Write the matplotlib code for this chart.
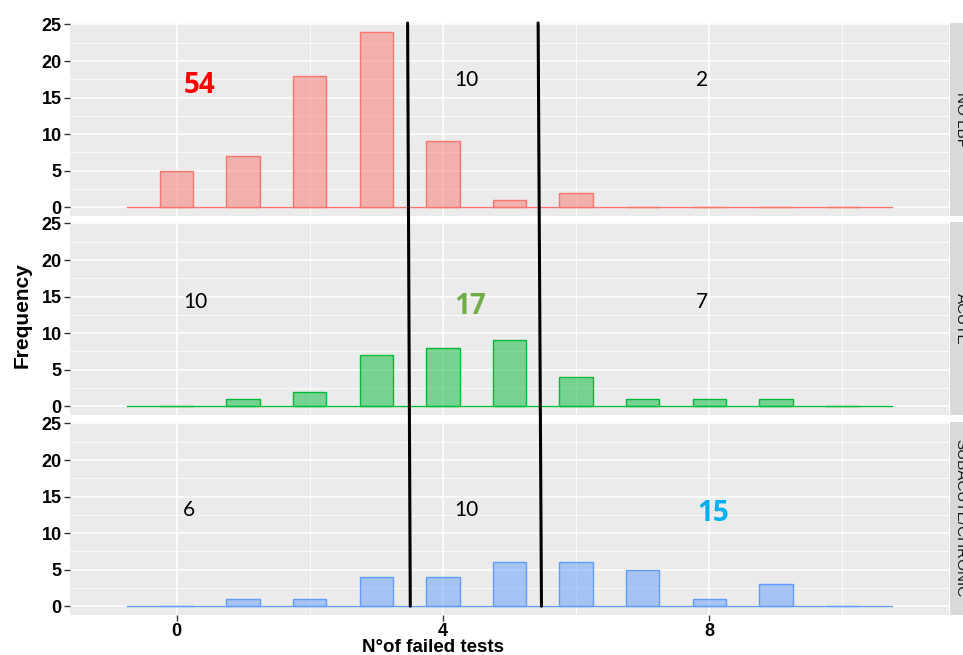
import matplotlib
matplotlib.use("Agg")
import matplotlib.pyplot as plt
from matplotlib.patches import ConnectionPatch, Rectangle

plt.rcParams["font.family"] = ["Liberation Sans", "DejaVu Sans"]

# Histogram counts of failed tests per group
failed_tests = list(range(11))
groups = ["NO LBP", "ACUTE", "SUBACUTE/CHRONIC"]
no_lbp = [5, 7, 18, 24, 9, 1, 2, 0, 0, 0, 0]
acute = [0, 1, 2, 7, 8, 9, 4, 1, 1, 1, 0]
subacute_chronic = [0, 1, 1, 4, 4, 6, 6, 5, 1, 3, 0]
group_counts = [no_lbp, acute, subacute_chronic]

# Zones of failed tests split by the two cut-off lines
zones = [(0, 3), (4, 5), (6, 10)]
highlight_zone = [0, 1, 2]
highlight_colors = ["#FF0000", "#70AD47", "#00B0F0"]

x_ticks = [0, 4, 8]
y_ticks = [0, 5, 10, 15, 20, 25]

# styling
line_colors = ["#F8766D", "#00BA38", "#619CFF"]
panel_bg = "#EBEBEB"
strip_bg = "#D9D9D9"
label_pos = [
    [(0.35, 16.7), (4.35, 17.4), (7.89, 17.4)],
    [(0.29, 14.3), (4.41, 13.6), (7.89, 14.3)],
    [(0.18, 13.1), (4.35, 13.1), (8.06, 12.7)],
]
cut_top_x = [3.47, 5.43]
cut_bottom_x = [3.51, 5.48]

W, H = 963, 655
fig = plt.figure(figsize=(W / 100, H / 100), dpi=100)

left_px, right_px = 70, 949
panel_tops = [23, 222, 422]
panel_h = 193
tick_font = dict(fontsize=13, fontweight="bold", color="black")

axes = []
for i, (name, counts) in enumerate(zip(groups, group_counts)):
    top = panel_tops[i]
    ax = fig.add_axes([left_px / W, 1 - (top + panel_h) / H,
                       (right_px - left_px) / W, panel_h / H])
    axes.append(ax)
    ax.set_facecolor(panel_bg)
    ax.set_xlim(-1.6, 11.6)
    ax.set_ylim(-1.2, 25.2)
    for s in ax.spines.values():
        s.set_visible(False)
    ax.set_axisbelow(True)
    ax.set_xticks(x_ticks)
    ax.set_yticks(y_ticks)
    ax.set_yticklabels([str(v) for v in y_ticks], **tick_font)
    ax.set_xticks([2, 6, 10], minor=True)
    ax.set_yticks([2.5, 7.5, 12.5, 17.5, 22.5], minor=True)
    ax.grid(which="major", color="white", lw=1.1)
    ax.grid(which="minor", color="white", lw=0.55)
    ax.tick_params(which="minor", length=0)
    ax.tick_params(which="major", length=4, width=1, color="#333333", pad=2)
    if i < 2:
        ax.tick_params(axis="x", labelbottom=False, length=0)
    else:
        ax.set_xticklabels([str(v) for v in x_ticks], **tick_font)

    c = line_colors[i]
    ax.plot([failed_tests[0] - 0.75, failed_tests[-1] + 0.75], [0, 0],
            color=c, lw=1.0, zorder=2)
    ax.bar(failed_tests, counts, width=0.5, facecolor=c, alpha=0.5,
           edgecolor="none", zorder=2)
    ax.bar(failed_tests, counts, width=0.5, facecolor="none",
           edgecolor=c, lw=1.0, zorder=3)

    # zone totals
    for z, (lo, hi) in enumerate(zones):
        total = sum(v for t, v in zip(failed_tests, counts) if lo <= t <= hi)
        x, y = label_pos[i][z]
        if z == highlight_zone[i]:
            ax.text(x, y, str(total), ha="center", va="center", fontsize=20,
                    fontweight="bold", color=highlight_colors[i],
                    family="Open Sans", zorder=5)
        else:
            ax.text(x, y, str(total), ha="center", va="center", fontsize=15,
                    color="black", family="Lato", zorder=5)

    # facet strip
    fig.patches.append(Rectangle(((right_px + 1) / W, 1 - (top + panel_h) / H),
                                 30 / W, panel_h / H, transform=fig.transFigure,
                                 facecolor=strip_bg, edgecolor="none", zorder=0))
    fig.text(960.5 / W, 1 - (top + panel_h / 2) / H, name, rotation=-90,
             ha="center", va="center", fontsize=11, color="#1A1A1A")

# cut-off lines spanning all panels
for xt, xb in zip(cut_top_x, cut_bottom_x):
    con = ConnectionPatch(xyA=(xt, 25.2), coordsA=axes[0].transData,
                          xyB=(xb, 0), coordsB=axes[2].transData,
                          color="black", lw=2.2)
    fig.add_artist(con)

fig.text(22 / W, 1 - 315 / H, "Frequency", rotation=90, ha="center",
         va="center", fontsize=15, fontweight="bold")
fig.text(433 / W, 1 - 647 / H, "N°of failed tests", ha="center", va="center",
         fontsize=13.5, fontweight="bold")

fig.savefig("out.png", dpi=100)
